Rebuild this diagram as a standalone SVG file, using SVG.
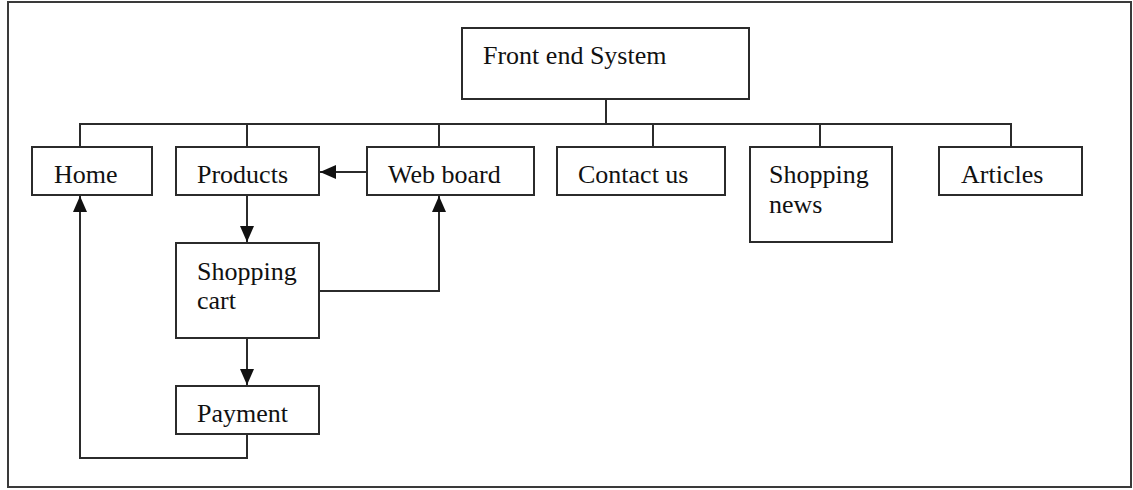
<svg xmlns="http://www.w3.org/2000/svg" width="1133" height="490" viewBox="0 0 1133 490">
  <style>
    .box { fill: #ffffff; stroke: #2b2b2b; stroke-width: 2; }
    .frame { fill: #ffffff; stroke: #3a3a3a; stroke-width: 2; }
    .wire { fill: none; stroke: #2b2b2b; stroke-width: 2; }
    .arrow { fill: none; stroke: #2b2b2b; stroke-width: 2; marker-end: url(#head); }
    text { font-family: "Liberation Serif", "Times New Roman", serif; font-size: 26px; fill: #111111; }
  </style>
  <defs>
    <marker id="head" viewBox="0 0 16 14" refX="16" refY="7" markerWidth="16" markerHeight="14" markerUnits="userSpaceOnUse" orient="auto">
      <path d="M0,0 L16,7 L0,14 Z" fill="#111111"/>
    </marker>
  </defs>

  <!-- outer border -->
  <rect class="frame" x="8" y="2" width="1123" height="485"/>

  <!-- connectors -->
  <g id="connectors">
    <!-- tree from the root down to the top-level pages -->
    <path class="wire" d="M606,99 V124"/>
    <path class="wire" d="M80,147 V124 H1011 V147"/>
    <path class="wire" d="M247,124 V147"/>
    <path class="wire" d="M439,124 V147"/>
    <path class="wire" d="M653,124 V147"/>
    <path class="wire" d="M820,124 V147"/>
    <!-- navigation flow -->
    <path class="arrow" d="M367,172 H320"/>
    <path class="arrow" d="M247,195 V242"/>
    <path class="arrow" d="M247,338 V385"/>
    <path class="arrow" d="M319,291 H439 V196"/>
    <path class="arrow" d="M247,434 V458 H80 V196"/>
  </g>

  <g id="front-end-system">
    <rect class="box" x="462" y="28" width="287" height="71"/>
    <text x="483" y="64">Front end System</text>
  </g>

  <g id="home">
    <rect class="box" x="32" y="147" width="120" height="48"/>
    <text x="54" y="183">Home</text>
  </g>

  <g id="products">
    <rect class="box" x="176" y="147" width="143" height="48"/>
    <text x="197" y="183">Products</text>
  </g>

  <g id="web-board">
    <rect class="box" x="367" y="147" width="167" height="48"/>
    <text x="388" y="183">Web board</text>
  </g>

  <g id="contact-us">
    <rect class="box" x="557" y="147" width="168" height="48"/>
    <text x="578" y="183">Contact us</text>
  </g>

  <g id="shopping-news">
    <rect class="box" x="750" y="147" width="142" height="95"/>
    <text x="769" y="183">Shopping</text>
    <text x="769" y="213">news</text>
  </g>

  <g id="articles">
    <rect class="box" x="939" y="147" width="143" height="48"/>
    <text x="961" y="183">Articles</text>
  </g>

  <g id="shopping-cart">
    <rect class="box" x="176" y="243" width="143" height="95"/>
    <text x="197" y="280">Shopping</text>
    <text x="197" y="309">cart</text>
  </g>

  <g id="payment">
    <rect class="box" x="176" y="386" width="143" height="48"/>
    <text x="197" y="422">Payment</text>
  </g>
</svg>
